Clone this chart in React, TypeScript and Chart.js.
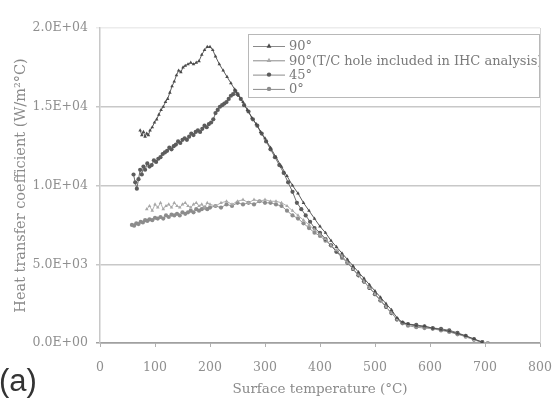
import React, { useEffect, useRef } from "react";
import { Chart, registerables } from "chart.js";

Chart.register(...registerables);

// ---- data ----
const labels = ["90°", "90°(T/C hole included in IHC analysis)", "45°", "0°"];

const t90 = [73, 76, 79, 82, 85, 88, 91, 95, 99, 103, 107, 111, 115, 119, 123, 127, 131, 135, 139, 143, 147, 151, 155, 160, 165, 170, 175, 180, 185, 190, 195, 200, 205, 210, 217, 224, 231, 238, 245, 252, 260, 268, 276, 284, 292, 300, 310, 320, 330, 340, 350, 360, 370, 380, 390, 400, 410, 420, 430, 440, 450, 460, 470, 480, 490, 500, 510, 520, 530, 540, 550, 560, 575, 590, 605, 620, 635, 650, 665, 680, 695];
const h90 = [13500, 13200, 13400, 13100, 13300, 13200, 13500, 13700, 14000, 14200, 14500, 14800, 15000, 15300, 15500, 15900, 16300, 16600, 17000, 17300, 17200, 17500, 17600, 17700, 17800, 17700, 17800, 17900, 18300, 18600, 18800, 18800, 18600, 18200, 17700, 17300, 16900, 16500, 16100, 15700, 15300, 14800, 14300, 13900, 13400, 13000, 12400, 11800, 11200, 10600, 10000, 9500, 8900, 8400, 7900, 7400, 7000, 6500, 6100, 5700, 5300, 4900, 4500, 4100, 3700, 3300, 2900, 2500, 2100, 1600, 1300, 1200, 1100, 1050, 950, 850, 750, 600, 450, 250, 50];

const tTC = [85, 90, 95, 100, 105, 110, 115, 120, 125, 130, 135, 140, 145, 150, 155, 160, 165, 170, 175, 180, 185, 190, 195, 200, 210, 220, 230, 240, 250, 260, 270, 280, 290, 300, 310, 320, 330, 340, 350, 360, 370, 380, 390, 400, 410, 420, 430, 440, 450, 460, 470, 480, 490, 500, 510, 520, 530, 540, 550, 560, 575, 590, 605, 620, 635, 650, 665, 680, 695, 705];
const hTC = [8500, 8700, 8400, 8800, 8600, 8900, 8500, 8700, 8800, 8600, 8900, 8700, 8600, 8800, 8900, 8700, 8600, 8800, 8900, 8700, 8800, 8600, 8900, 8800, 8700, 8900, 9000, 8800, 9000, 9100, 8900, 9100, 9000, 9100, 9000, 9000, 8900, 8700, 8400, 8100, 7800, 7500, 7200, 6900, 6600, 6200, 5900, 5500, 5100, 4700, 4300, 3900, 3500, 3100, 2700, 2300, 1900, 1500, 1250, 1150, 1100, 1000, 950, 850, 750, 600, 400, 200, 50, 0];

const t45 = [61, 64, 67, 70, 73, 76, 79, 82, 86, 90, 94, 98, 102, 106, 110, 114, 118, 122, 126, 130, 134, 138, 142, 146, 150, 154, 158, 162, 166, 170, 174, 178, 182, 186, 190, 194, 198, 202, 206, 210, 214, 218, 222, 226, 230, 234, 238, 242, 246, 250, 256, 262, 270, 278, 286, 294, 302, 310, 318, 326, 334, 342, 350, 358, 366, 374, 382, 390, 400, 410, 420, 430, 440, 450, 460, 470, 480, 490, 500, 510, 520, 530, 540, 550, 560, 575, 590, 605, 620, 635, 650, 665, 680, 695];
const h45 = [10700, 10200, 9800, 10400, 11000, 10700, 11200, 11000, 11400, 11200, 11300, 11600, 11500, 11700, 11800, 12000, 12100, 12200, 12400, 12300, 12500, 12600, 12800, 12700, 12900, 13000, 12900, 13100, 13300, 13200, 13400, 13500, 13400, 13600, 13800, 13700, 13900, 14000, 14200, 14600, 14800, 15000, 15100, 15200, 15300, 15500, 15700, 15800, 16000, 15800, 15500, 15100, 14700, 14200, 13800, 13300, 12800, 12300, 11800, 11300, 10800, 10200, 9600, 8900, 8500, 8100, 7700, 7300, 7000, 6600, 6200, 5800, 5500, 5100, 4700, 4300, 3900, 3500, 3100, 2700, 2300, 1900, 1500, 1300, 1200, 1150, 1050, 950, 900, 800, 650, 450, 250, 50];

const t0 = [58, 62, 66, 70, 74, 78, 82, 86, 90, 95, 100, 105, 110, 115, 120, 125, 130, 135, 140, 145, 150, 155, 160, 165, 170, 175, 180, 185, 190, 195, 200, 210, 220, 230, 240, 250, 260, 270, 280, 290, 300, 310, 320, 330, 340, 350, 360, 370, 380, 390, 400, 410, 420, 430, 440, 450, 460, 470, 480, 490, 500, 510, 520, 530, 540, 550, 560, 575, 590, 605, 620, 635, 650, 665, 680, 695, 705];
const h0 = [7500, 7450, 7600, 7550, 7700, 7650, 7800, 7750, 7850, 7800, 7950, 7900, 8000, 7900, 8100, 8000, 8150, 8100, 8200, 8100, 8300, 8200, 8300, 8400, 8300, 8500, 8400, 8500, 8600, 8500, 8600, 8700, 8600, 8800, 8700, 8900, 8800, 8900, 8800, 9000, 8900, 8900, 8800, 8700, 8400, 8100, 7900, 7600, 7300, 7000, 6800, 6500, 6200, 5800, 5400, 5100, 4700, 4300, 3900, 3500, 3100, 2700, 2300, 1900, 1500, 1250, 1100, 1000, 950, 900, 800, 700, 550, 400, 200, 50, 0];

const xTicks = [0, 100, 200, 300, 400, 500, 600, 700, 800];
const yTickLabels = ["0.0E+00", "5.0E+03", "1.0E+04", "1.5E+04", "2.0E+04"];

const colors = ["#4a4a4a", "#a8a8a8", "#5c5c5c", "#8c8c8c"];
const styles = ["triangle", "triangle", "circle", "circle"];

const FONT = "'DejaVu Serif', serif";

const pts = (xs: number[], ys: number[]) => xs.map((x, i) => ({ x, y: ys[i] }));

function drawMarker(ctx: CanvasRenderingContext2D, style: string, x: number, y: number, r: number, color: string) {
  ctx.fillStyle = color;
  ctx.beginPath();
  if (style === "triangle") {
    ctx.moveTo(x, y - r * 1.2);
    ctx.lineTo(x + r * 1.1, y + r * 0.8);
    ctx.lineTo(x - r * 1.1, y + r * 0.8);
    ctx.closePath();
  } else {
    ctx.arc(x, y, r, 0, Math.PI * 2);
  }
  ctx.fill();
}

const overlayPlugin = {
  id: "overlay",
  beforeDatasetsDraw(chart: any) {
    const { ctx, chartArea } = chart;
    ctx.save();
    ctx.strokeStyle = "#d6d6d6";
    ctx.lineWidth = 1;
    ctx.beginPath();
    ctx.moveTo(chartArea.right + 0.5, chartArea.top);
    ctx.lineTo(chartArea.right + 0.5, chartArea.bottom);
    ctx.stroke();
    ctx.restore();
  },
  afterDraw(chart: any) {
    const { ctx } = chart;
    ctx.save();
    // legend box
    const bx = 248, by = 34, bw = 291, bh = 63;
    ctx.fillStyle = "#ffffff";
    ctx.fillRect(bx, by, bw, bh);
    ctx.strokeStyle = "#b8b8b8";
    ctx.lineWidth = 1;
    ctx.strokeRect(bx + 0.5, by + 0.5, bw, bh);
    ctx.beginPath();
    ctx.rect(bx, by, bw, bh);
    ctx.clip();
    chart.data.datasets.forEach((ds: any, i: number) => {
      const y = by + 12 + i * 14.3;
      ctx.strokeStyle = "#8a8a8a";
      ctx.lineWidth = 1;
      ctx.beginPath();
      ctx.moveTo(bx + 5, y + 0.5);
      ctx.lineTo(bx + 37, y + 0.5);
      ctx.stroke();
      drawMarker(ctx, ds.pointStyle, bx + 21, y, 2.2, ds.pointBackgroundColor);
      ctx.fillStyle = "#7a7a7a";
      ctx.font = "13px " + FONT;
      ctx.textBaseline = "middle";
      ctx.textAlign = "left";
      ctx.fillText(ds.label, bx + 41, y + 1);
    });
    ctx.restore();
    ctx.save();
    ctx.fillStyle = "#333333";
    ctx.font = "31px 'Liberation Sans', Arial, sans-serif";
    ctx.textBaseline = "alphabetic";
    ctx.textAlign = "left";
    ctx.fillText("(a)", -1, 391);
    ctx.restore();
  },
};

export default function App() {
  const ref = useRef<HTMLCanvasElement>(null);
  useEffect(() => {
    if (!ref.current) return;
    const datasets = [
      [t90, h90],
      [tTC, hTC],
      [t45, h45],
      [t0, h0],
    ].map(([xs, ys], i) => ({
      label: labels[i],
      data: pts(xs, ys),
      showLine: true,
      borderColor: colors[i],
      borderWidth: 0.9,
      pointStyle: styles[i],
      pointRadius: 2.1,
      pointBorderWidth: 0,
      pointBackgroundColor: colors[i],
      pointBorderColor: colors[i],
    }));
    const chart = new Chart(ref.current, {
      type: "scatter",
      data: { datasets: datasets as any },
      options: {
        responsive: false,
        animation: false,
        layout: { padding: { top: 28, right: 17, left: 0, bottom: 0 } },
        plugins: { legend: { display: false }, tooltip: { enabled: false } },
        scales: {
          x: {
            type: "linear",
            min: 0,
            max: 800,
            afterBuildTicks: (s: any) => {
              s.ticks = xTicks.map((v) => ({ value: v }));
            },
            afterFit: (s: any) => {
              s.height = 63;
              s.paddingLeft = 0;
              s.paddingRight = 0;
            },
            ticks: {
              color: "#8f8f8f",
              font: { family: FONT, size: 12.5 },
              padding: 13,
              maxRotation: 0,
            },
            grid: { display: true, drawOnChartArea: false, drawTicks: true, tickLength: 4, color: "#b0b0b0" },
            border: { display: true, color: "#a0a0a0", width: 1.5 },
            title: {
              display: true,
              text: "Surface temperature (°C)",
              color: "#8a8a8a",
              font: { family: FONT, size: 13.5 },
              padding: { top: 8, bottom: 8 },
            },
          },
          y: {
            type: "linear",
            min: 0,
            max: 20000,
            afterBuildTicks: (s: any) => {
              s.ticks = yTickLabels.map((_, i) => ({ value: i * 5000 }));
            },
            afterFit: (s: any) => {
              s.width = 100;
              s.paddingTop = 0;
              s.paddingBottom = 0;
            },
            ticks: {
              color: "#8f8f8f",
              font: { family: FONT, size: 12.5 },
              padding: 8,
              callback: (_v: any, i: number) => yTickLabels[i],
            },
            grid: {
              color: (c: any) => (c.tick && c.tick.value === 20000 ? "#ececec" : c.tick && c.tick.value === 0 ? "#a0a0a0" : "#c8c8c8"),
              lineWidth: 1.5,
              tickLength: 4,
            },
            border: { display: true, color: "#c8c8c8", width: 1.5 },
            title: {
              display: true,
              text: "Heat transfer coefficient (W/m²°C)",
              color: "#8a8a8a",
              font: { family: FONT, size: 14.5 },
              padding: { top: 13, bottom: 13 },
            },
          },
        },
      },
      plugins: [overlayPlugin],
    });
    return () => chart.destroy();
  }, []);
  return (
    <div style={{ position: "fixed", left: 0, top: 0, width: 557, height: 406, background: "#fff" }}>
      <canvas ref={ref} width={557} height={406} style={{ width: 557, height: 406, display: "block" }} />
    </div>
  );
}
